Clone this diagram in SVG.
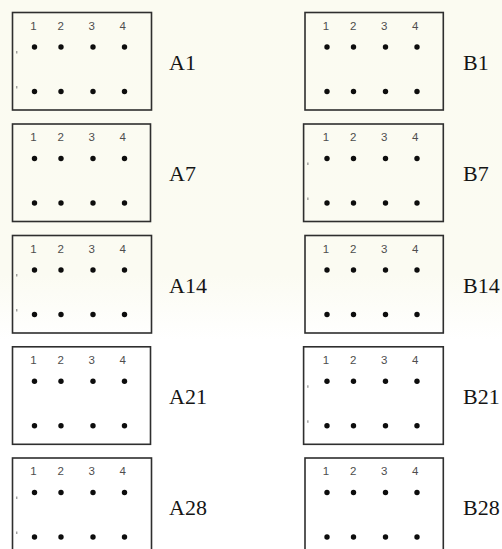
<svg xmlns="http://www.w3.org/2000/svg" width="502" height="549" viewBox="0 0 502 549">
  <defs>
    <linearGradient id="wm" x1="0" y1="0" x2="0" y2="1">
      <stop offset="0" stop-color="#fbfbf1"/>
      <stop offset="0.5" stop-color="#fbfbf2"/>
      <stop offset="0.62" stop-color="#ffffff"/>
      <stop offset="1" stop-color="#ffffff"/>
    </linearGradient>
    <g id="grid">
      <text class="num" x="21" y="17.3">1</text>
      <text class="num" x="48.3" y="17.3">2</text>
      <text class="num" x="79.3" y="17.3">3</text>
      <text class="num" x="110.3" y="17.3">4</text>
      <circle class="dot" cx="22" cy="34.5" r="2.7"/>
      <circle class="dot" cx="48.5" cy="34.5" r="2.7"/>
      <circle class="dot" cx="80.5" cy="34.5" r="2.7"/>
      <circle class="dot" cx="112" cy="34.5" r="2.7"/>
      <circle class="dot" cx="22" cy="79" r="2.7"/>
      <circle class="dot" cx="48.5" cy="79" r="2.7"/>
      <circle class="dot" cx="80.5" cy="79" r="2.7"/>
      <circle class="dot" cx="112" cy="79" r="2.7"/>
    </g>
    <g id="ticks">
      <line class="tick" x1="4.3" y1="38.5" x2="4.3" y2="41"/>
      <line class="tick" x1="4.3" y1="73.5" x2="4.3" y2="76"/>
    </g>
  </defs>
  <style>
    .box { fill: none; stroke: #2e2e2e; stroke-width: 1.6; }
    .num { font-family: "Liberation Sans", Arial, sans-serif; font-size: 11.5px; fill: #4d4d4d; text-anchor: middle; }
    .dot { fill: #0d0d0d; }
    .lbl { font-family: "Liberation Serif", "Times New Roman", serif; font-size: 22px; fill: #151515; }
    .tick { stroke: #777777; stroke-width: 1; }
  </style>
  <rect x="0" y="0" width="502" height="549" fill="url(#wm)"/>

  <g id="A1">
    <rect class="box" x="12.5" y="12.5" width="139" height="97.5"/>
    <use href="#grid" x="12.5" y="12.5"/>
    <use href="#ticks" x="12.5" y="12.5"/>
    <text class="lbl" x="169" y="70">A1</text>
  </g>
  <g id="A7">
    <rect class="box" x="12.5" y="124" width="138" height="97.5"/>
    <use href="#grid" x="12.5" y="124"/>
    <text class="lbl" x="169" y="181">A7</text>
  </g>
  <g id="A14">
    <rect class="box" x="12.5" y="235.5" width="139" height="97.5"/>
    <use href="#grid" x="12.5" y="235.5"/>
    <use href="#ticks" x="12.5" y="235.5"/>
    <text class="lbl" x="169" y="292.5">A14</text>
  </g>
  <g id="A21">
    <rect class="box" x="12.5" y="346.8" width="138" height="97.5"/>
    <use href="#grid" x="12.5" y="346.8"/>
    <text class="lbl" x="169" y="403.5">A21</text>
  </g>
  <g id="A28">
    <rect class="box" x="12.5" y="458" width="139" height="97.5"/>
    <use href="#grid" x="12.5" y="458"/>
    <use href="#ticks" x="12.5" y="458"/>
    <text class="lbl" x="169" y="515">A28</text>
  </g>

  <g id="B1">
    <rect class="box" x="305" y="12.5" width="138.3" height="97.5"/>
    <use href="#grid" x="305" y="12.5"/>
    <text class="lbl" x="463" y="70">B1</text>
  </g>
  <g id="B7">
    <rect class="box" x="303.6" y="124" width="139.7" height="97.5"/>
    <use href="#grid" x="305" y="124"/>
    <use href="#ticks" x="303.6" y="124"/>
    <text class="lbl" x="463" y="181">B7</text>
  </g>
  <g id="B14">
    <rect class="box" x="305" y="235.5" width="138.3" height="97.5"/>
    <use href="#grid" x="305" y="235.5"/>
    <text class="lbl" x="463" y="292.5">B14</text>
  </g>
  <g id="B21">
    <rect class="box" x="303.6" y="346.8" width="139.7" height="97.5"/>
    <use href="#grid" x="305" y="346.8"/>
    <use href="#ticks" x="303.6" y="346.8"/>
    <text class="lbl" x="463" y="403.5">B21</text>
  </g>
  <g id="B28">
    <rect class="box" x="305" y="458" width="138.3" height="97.5"/>
    <use href="#grid" x="305" y="458"/>
    <text class="lbl" x="463" y="515">B28</text>
  </g>

  <g id="connectors"/>
</svg>
